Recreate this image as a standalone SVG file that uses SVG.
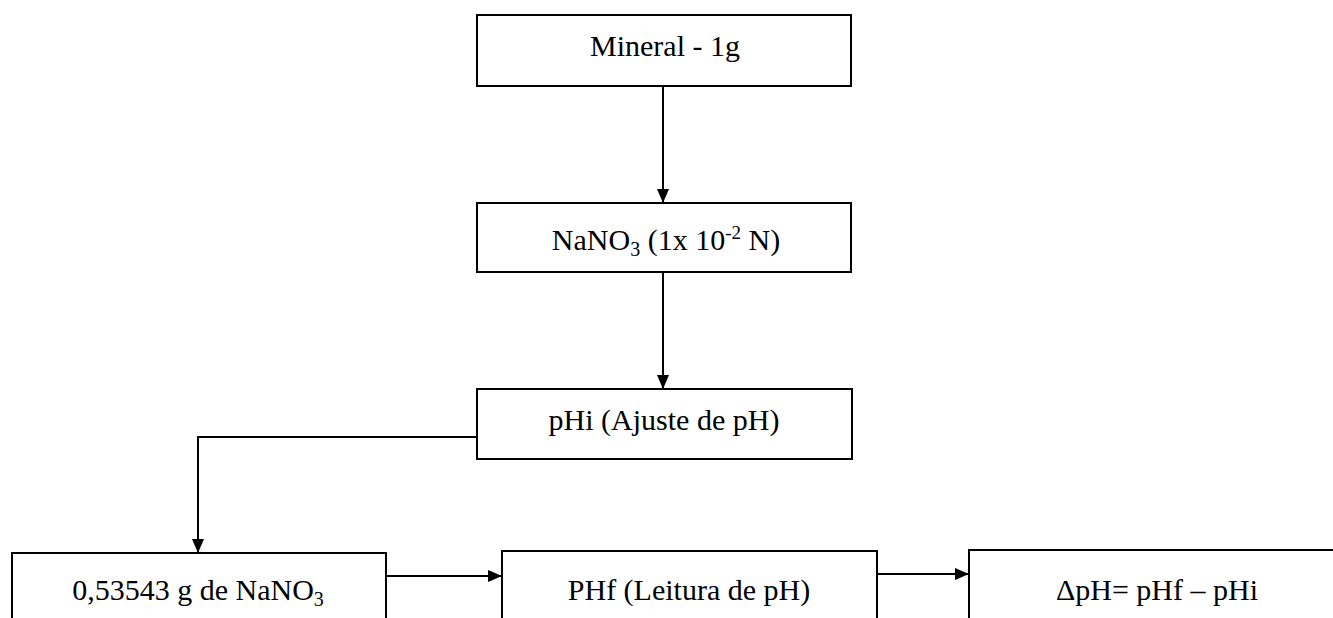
<svg xmlns="http://www.w3.org/2000/svg" width="1333" height="618" viewBox="0 0 1333 618">
<style>
.box{fill:#fff;stroke:#000;stroke-width:2}
.t{font-family:"Liberation Serif","Times New Roman",serif;font-size:30px;fill:#000;text-anchor:middle}
.c{fill:none;stroke:#000;stroke-width:2}
</style>
<defs>
<marker id="ah" markerWidth="14" markerHeight="12" refX="14" refY="6" orient="auto" markerUnits="userSpaceOnUse">
<path d="M0,0 L14,6 L0,12 Z" fill="#000"/>
</marker>
</defs>
<rect width="1333" height="618" fill="#fff"/>
<g id="connectors">
<path class="c" d="M663,86 V203" marker-end="url(#ah)"/>
<path class="c" d="M663,272 V389" marker-end="url(#ah)"/>
<path class="c" d="M477,437 H198 V553" marker-end="url(#ah)"/>
<path class="c" d="M386,576 H502" marker-end="url(#ah)"/>
<path class="c" d="M877,574 H969" marker-end="url(#ah)"/>
</g>
<g id="n1"><rect class="box" x="477" y="15" width="374" height="71"/><text class="t" x="665" y="56">Mineral - 1g</text></g>
<g id="n2"><rect class="box" x="477" y="203" width="374" height="69"/><text class="t" x="666" y="250">NaNO<tspan font-size="20" dy="6">3</tspan><tspan dy="-6"> (1x 10</tspan><tspan font-size="19" dy="-11">-2</tspan><tspan dy="11"> N)</tspan></text></g>
<g id="n3"><rect class="box" x="477" y="389" width="375" height="70"/><text class="t" x="664" y="430">pHi (Ajuste de pH)</text></g>
<g id="n4"><rect class="box" x="12" y="553" width="374" height="80"/><text class="t" x="198" y="600">0,53543 g de NaNO<tspan font-size="20" dy="6">3</tspan></text></g>
<g id="n5"><rect class="box" x="502" y="551" width="375" height="80"/><text class="t" x="689" y="600">PHf (Leitura de pH)</text></g>
<g id="n6"><rect class="box" x="969" y="550" width="380" height="80"/><text class="t" x="1157" y="600">ΔpH= pHf – pHi</text></g>
</svg>
